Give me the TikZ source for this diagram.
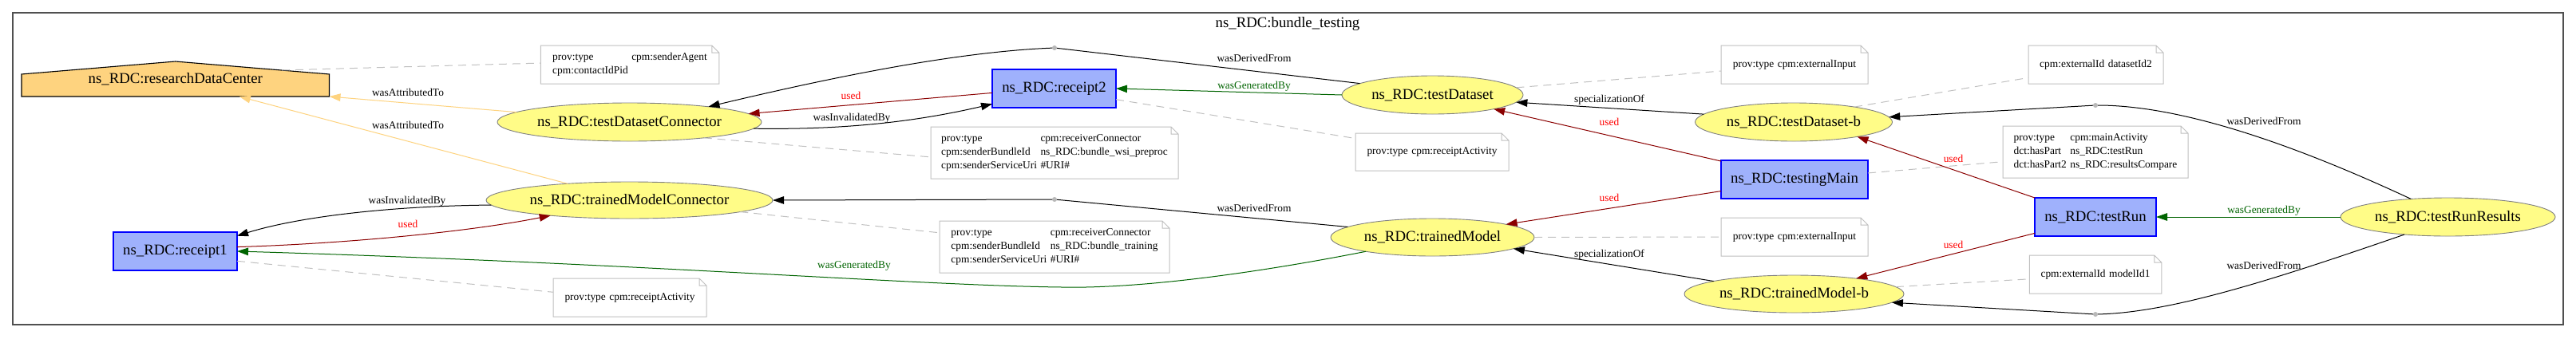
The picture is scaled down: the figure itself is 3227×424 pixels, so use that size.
\documentclass[tikz,border=0pt]{standalone}
\usepackage{fontspec}
\setmainfont{Liberation Serif}
\usetikzlibrary{arrows.meta,shapes.geometric,backgrounds,calc}

\definecolor{entfill}{HTML}{FFFC87}
\definecolor{actfill}{HTML}{9FB1FC}
\definecolor{agfill}{HTML}{FED37F}
\definecolor{usedc}{HTML}{8B0000}
\definecolor{genc}{HTML}{006400}
\definecolor{notegray}{HTML}{C0C0C0}
\definecolor{entborder}{HTML}{808080}
\definecolor{framec}{HTML}{505050}
\definecolor{dotgray}{HTML}{B8B8B8}

\newcommand\nodefont{\fontsize{18.8}{22}\selectfont}
\newcommand\lblfont{\fontsize{13.4}{16}\selectfont}
\newcommand\notefont{\fontsize{13.4}{17}\selectfont}
\newcommand\foldnote[1]{\draw[notedraw] (#1.north west) -- ([xshift=-9pt]#1.north east) -- ([yshift=-9pt]#1.north east) -- (#1.south east) -- (#1.south west) -- cycle ([xshift=-9pt]#1.north east) |- ([yshift=-9pt]#1.north east);}
\newcommand\ntab[1]{\begin{tabular}{@{}l@{\hspace{4.5pt}}l@{}}#1\end{tabular}}

\tikzset{
 every node/.style={outer sep=0pt},
 entity/.style={ellipse, draw=entborder, fill=entfill, line width=0.9pt, inner sep=0pt, font=\nodefont, minimum height=48pt},
 activity/.style={rectangle, draw=blue, fill=actfill, line width=1.1pt, inner sep=0pt, font=\nodefont, minimum height=48pt},
 agentnode/.style={rectangle, inner sep=0pt, font=\nodefont, minimum width=385.5pt, minimum height=44pt},
 notebox/.style={rectangle, fill=white, inner sep=0pt, font=\notefont},
 notedraw/.style={draw=notegray, line width=1pt, line join=miter},
 conn/.style={line width=1pt, -{Triangle[length=14pt,width=9.5pt]}},
 seg/.style={line width=1pt},
 usedconn/.style={conn, draw=usedc},
 genconn/.style={conn, draw=genc},
 attrconn/.style={conn, draw=agfill},
 annot/.style={draw=notegray, line width=1pt, dash pattern=on 10pt off 7pt},
 lbl/.style={font=\lblfont, inner sep=0pt},
 usedlbl/.style={lbl, text=red},
 genlbl/.style={lbl, text=genc},
 dotnode/.style={circle, fill=dotgray, inner sep=0pt, minimum size=6pt},
}

\begin{document}
\begin{tikzpicture}[x=1pt,y=-1pt]
\useasboundingbox (0,0) rectangle (3227,424);
\begin{scope}[on background layer]
\fill[white] (0,0) rectangle (3227,424);
\end{scope}

% cluster
\node[draw=framec, line width=1.4pt, minimum width=3195pt, minimum height=391pt, inner sep=0pt] (cluster) at (1613.5,211.5) {};
\node[font=\nodefont, inner sep=0pt] (title) at (1613,30) {ns\_RDC:bundle\_testing};

% agent
\node[agentnode] (rdc) at (219.75,99) {ns\_RDC:researchDataCenter};
\begin{scope}[on background layer]
\draw[fill=agfill, line width=1.1pt] (rdc.south west) -- ([yshift=-16pt]rdc.north west) -- (rdc.north) -- ([yshift=-16pt]rdc.north east) -- (rdc.south east) -- cycle;
\end{scope}
\coordinate (rdcroof) at (353,88);

% entities
\node[entity, minimum width=331pt] (tdc) at (788.5,153) {ns\_RDC:testDatasetConnector};
\node[entity, minimum width=359pt, minimum height=46pt] (tmc) at (788.5,251) {ns\_RDC:trainedModelConnector};
\node[entity, minimum width=227pt] (td) at (1794.5,119) {ns\_RDC:testDataset};
\node[entity, minimum width=255pt, minimum height=47pt] (tm) at (1794.5,297.5) {ns\_RDC:trainedModel};
\node[entity, minimum width=247pt] (tdb) at (2247,153) {ns\_RDC:testDataset-b};
\node[entity, minimum width=275pt, minimum height=47pt] (tmb) at (2247.5,368.5) {ns\_RDC:trainedModel-b};
\node[entity, minimum width=269pt] (trr) at (3066.5,272) {ns\_RDC:testRunResults};

% activities
\node[activity, minimum width=155pt] (r1) at (219.5,315) {ns\_RDC:receipt1};
\node[activity, minimum width=155pt] (r2) at (1320.5,111) {ns\_RDC:receipt2};
\node[activity, minimum width=184pt] (tmain) at (2248,225) {ns\_RDC:testingMain};
\node[activity, minimum width=152pt] (trun) at (2625,272) {ns\_RDC:testRun};

% notes
\node[notebox, minimum width=223.5pt, minimum height=48pt] (n1) at (789,81) {\ntab{prov:type & cpm:senderAgent\\ cpm:contactIdPid & }};
\node[notebox, minimum width=192pt, minimum height=48pt] (n2) at (789,373) {\ntab{prov:type & cpm:receiptActivity}};
\node[notebox, minimum width=310pt, minimum height=65pt] (n3) at (1321,191.5) {\ntab{prov:type & cpm:receiverConnector\\ cpm:senderBundleId & ns\_RDC:bundle\_wsi\_preproc\\ cpm:senderServiceUri & \#URI\#}};
\node[notebox, minimum width=288pt, minimum height=65pt] (n4) at (1321,309.5) {\ntab{prov:type & cpm:receiverConnector\\ cpm:senderBundleId & ns\_RDC:bundle\_training\\ cpm:senderServiceUri & \#URI\#}};
\node[notebox, minimum width=192pt, minimum height=47pt] (n5) at (1794,190.5) {\ntab{prov:type & cpm:receiptActivity}};
\node[notebox, minimum width=184pt, minimum height=48pt] (n6) at (2248,81) {\ntab{prov:type & cpm:externalInput}};
\node[notebox, minimum width=184pt, minimum height=48pt] (n7) at (2248,297) {\ntab{prov:type & cpm:externalInput}};
\node[notebox, minimum width=169pt, minimum height=48pt] (n8) at (2625.5,81) {\ntab{cpm:externalId & datasetId2}};
\node[notebox, minimum width=232pt, minimum height=65pt] (n9) at (2625,190.5) {\ntab{prov:type & cpm:mainActivity\\ dct:hasPart & ns\_RDC:testRun\\ dct:hasPart2 & ns\_RDC:resultsCompare}};
\node[notebox, minimum width=165.5pt, minimum height=48pt] (n10) at (2625,344) {\ntab{cpm:externalId & modelId1}};
\foreach \n in {n1,n2,n3,n4,n5,n6,n7,n8,n9,n10} {\foldnote{\n}}

% derivation points
\node[dotnode] (d1) at (1321,60) {};
\node[dotnode] (d2) at (1321,250) {};
\node[dotnode] (d3) at (2625,132) {};
\node[dotnode] (d4) at (2625,394) {};

% annotation links
\draw[annot] (rdcroof) -- (n1.179);
\draw[annot] (r1.-9) -- (n2.176);
\draw[annot] (tdc.-12) -- (n3.182);
\draw[annot] (tmc.-6) -- (n4.173);
\draw[annot] (r2.-10) -- (n5.170);
\draw[annot] (td.5) -- (n6.185);
\draw[annot] (tm.east) -- (n7.west);
\draw[annot] (tdb.14) -- (n8.191);
\draw[annot] (tmain.5) -- (n9.186);
\draw[annot] (tmb.4) -- (n10.184);

% attribution
\draw[attrconn] (tdc.175) -- (rdc.south east) node[lbl, at={(511,116)}] {wasAttributedTo};
\draw[attrconn] (tmc.165) -- ([xshift=80pt]rdc.south) node[lbl, at={(511,157)}] {wasAttributedTo};

% left part
\draw[conn] (tmc.182) .. controls (500,258) and (380,270) .. (r1.14) node[lbl, at={(510,252)}] {wasInvalidatedBy};
\draw[usedconn] (r1.4) .. controls (420,306) and (580,292) .. (tmc.-169) node[usedlbl, at={(511,281)}] {used};
\draw[genconn] (tm.192) .. controls (1560,345) and (1420,362) .. (1330,360) .. controls (1150,358) and (800,330) .. (r1.east) node[genlbl, at={(1070,333)}] {wasGeneratedBy};

% middle part
\draw[seg] (td.171) -- (d1) node[lbl, at={(1571,73)}] {wasDerivedFrom};
\draw[conn] (d1) .. controls (1200,65) and (1050,95) .. (tdc.11);
\draw[genconn] (td.west) -- (r2.east) node[genlbl, at={(1571,108)}] {wasGeneratedBy};
\draw[usedconn] (r2.184) -- (tdc.4) node[usedlbl, at={(1066,120)}] {used};
\draw[conn] (tdc.-3) .. controls (1060,163) and (1150,152) .. (r2.194) node[lbl, at={(1067,148)}] {wasInvalidatedBy};
\draw[seg] (tm.173) -- (d2) node[lbl, at={(1571,261)}] {wasDerivedFrom};
\draw[conn] (d2) -- (tmc.east);

% specialization and usage
\draw[conn] (tdb.175) -- (td.-5) node[lbl, at={(2016,125)}] {specializationOf};
\draw[usedconn] (tmain.166) -- (td.-13) node[usedlbl, at={(2016,153)}] {used};
\draw[usedconn] (tmain.189) -- (tm.10) node[usedlbl, at={(2016,248)}] {used};
\draw[conn] (tmb.171) -- (tm.-8) node[lbl, at={(2016,319)}] {specializationOf};

% right part
\draw[seg] (trr.154) .. controls (2850,170) and (2720,132) .. (d3) node[lbl, at={(2836,152)}] {wasDerivedFrom};
\draw[conn] (d3) -- (tdb.3);
\draw[seg] (trr.202) .. controls (2850,350) and (2720,392) .. (d4) node[lbl, at={(2836,333)}] {wasDerivedFrom};
\draw[conn] (d4) -- (tmb.-5);
\draw[genconn] (trr.west) -- (trun.east) node[genlbl, at={(2836,264)}] {wasGeneratedBy};
\draw[usedconn] (trun.north west) -- (tdb.-13) node[usedlbl, at={(2447,199)}] {used};
\draw[usedconn] (trun.195) -- (tmb.14) node[usedlbl, at={(2447,307)}] {used};
\end{tikzpicture}
\end{document}
